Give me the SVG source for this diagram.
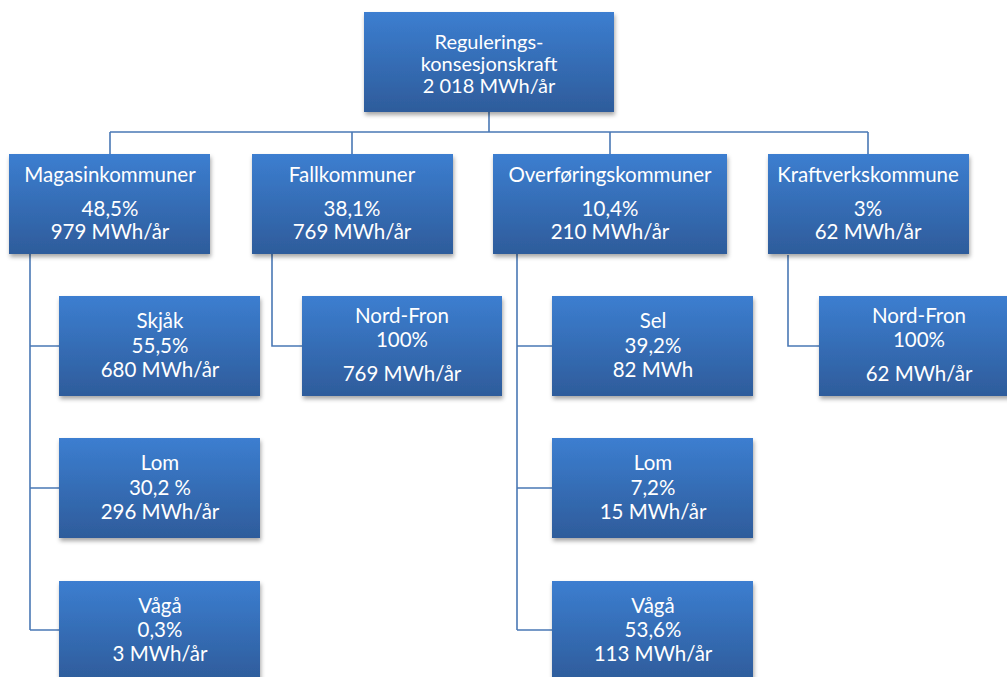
<svg xmlns="http://www.w3.org/2000/svg" width="1007" height="677" viewBox="0 0 1007 677">
<defs>
<linearGradient id="g" x1="0" y1="0" x2="0" y2="1">
<stop offset="0" stop-color="#3C7ED0"/>
<stop offset="1" stop-color="#2E5C9B"/>
</linearGradient>
<filter id="sh" x="-10%" y="-10%" width="125%" height="135%">
<feDropShadow dx="1" dy="3" stdDeviation="2.2" flood-color="#000" flood-opacity="0.35"/>
</filter>
<style>
.box{fill:url(#g);filter:url(#sh);}
text{font-family:Lato,"Open Sans","Liberation Sans",sans-serif;font-size:20.5px;fill:#fff;text-anchor:middle;}
.t{font-size:20px;}
.c{fill:none;stroke:#4A78B5;stroke-width:1.6;}
</style>
</defs>
<rect width="1007" height="677" fill="#fff"/>
<g id="connectors" class="c">
<path d="M489 112V132M110 132H868M110 132V154M352 132V154M610 132V154M868 132V154"/>
<path d="M30 254V630M30 346H59M30 488H59M30 630H59"/>
<path d="M272 254V346H302"/>
<path d="M517 254V630M517 346H552M517 488H552M517 630H552"/>
<path d="M788 255V346H819"/>
</g>
<g id="root"><rect class="box" x="364" y="12" width="250" height="100"/>
<text class="t" x="489" y="49">Regulerings-</text><text class="t" x="489" y="71">konsesjonskraft</text><text class="t" x="489" y="93">2 018 MWh/år</text></g>
<g id="magasin"><rect class="box" x="9" y="154" width="201" height="100"/>
<text x="110" y="182">Magasinkommuner</text><text x="110" y="216">48,5%</text><text x="110" y="239">979 MWh/år</text></g>
<g id="fall"><rect class="box" x="252" y="154" width="201" height="100"/>
<text x="352" y="182">Fallkommuner</text><text x="352" y="216">38,1%</text><text x="352" y="239">769 MWh/år</text></g>
<g id="overforing"><rect class="box" x="493" y="154" width="234" height="100"/>
<text x="610" y="182">Overføringskommuner</text><text x="610" y="216">10,4%</text><text x="610" y="239">210 MWh/år</text></g>
<g id="kraftverk"><rect class="box" x="768" y="154" width="201" height="100"/>
<text x="868" y="182">Kraftverkskommune</text><text x="868" y="216">3%</text><text x="868" y="239">62 MWh/år</text></g>
<g id="m-skjak"><rect class="box" x="59" y="296" width="201" height="100"/>
<text x="160" y="328">Skjåk</text><text x="160" y="353">55,5%</text><text x="160" y="377">680 MWh/år</text></g>
<g id="m-lom"><rect class="box" x="59" y="438" width="201" height="100"/>
<text x="160" y="470">Lom</text><text x="160" y="495">30,2 %</text><text x="160" y="519">296 MWh/år</text></g>
<g id="m-vaga"><rect class="box" x="59" y="581" width="201" height="100"/>
<text x="160" y="613">Vågå</text><text x="160" y="637">0,3%</text><text x="160" y="661">3 MWh/år</text></g>
<g id="f-nordfron"><rect class="box" x="302" y="296" width="200" height="100"/>
<text x="402" y="323">Nord-Fron</text><text x="402" y="347">100%</text><text x="402" y="381">769 MWh/år</text></g>
<g id="o-sel"><rect class="box" x="552" y="296" width="201" height="100"/>
<text x="653" y="328">Sel</text><text x="653" y="353">39,2%</text><text x="653" y="377">82 MWh</text></g>
<g id="o-lom"><rect class="box" x="552" y="438" width="201" height="100"/>
<text x="653" y="470">Lom</text><text x="653" y="495">7,2%</text><text x="653" y="519">15 MWh/år</text></g>
<g id="o-vaga"><rect class="box" x="552" y="581" width="201" height="100"/>
<text x="653" y="613">Vågå</text><text x="653" y="637">53,6%</text><text x="653" y="661">113 MWh/år</text></g>
<g id="k-nordfron"><rect class="box" x="819" y="296" width="200" height="100"/>
<text x="919" y="323">Nord-Fron</text><text x="919" y="347">100%</text><text x="919" y="381">62 MWh/år</text></g>
</svg>
